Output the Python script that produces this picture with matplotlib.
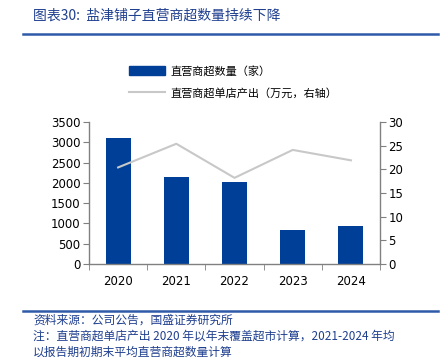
import matplotlib
matplotlib.use('agg')
import matplotlib.pyplot as plt
from matplotlib.lines import Line2D
from matplotlib.patches import Patch

plt.rcParams['font.family'] = ['Noto Sans CJK SC', 'DejaVu Sans']

years = ['2020', '2021', '2022', '2023', '2024']
stores = [3110, 2140, 2010, 830, 930]          # 直营商超数量（家）
output = [20.4, 25.4, 18.2, 24.1, 21.9]         # 单店产出（万元，右轴）

BLUE = '#003F98'
GRAY = '#C8C8C8'
AXIS = '#808080'
TXT_BLUE = '#1F3F8F'

fig = plt.figure(figsize=(4.42, 3.57), dpi=100)
ax = fig.add_axes([0.2014, 0.2605, 0.6584, 0.3978])
ax2 = ax.twinx()

x = list(range(len(years)))
ax.bar(x, stores, width=0.43, color=BLUE, zorder=2)
ax2.plot(x, output, color=GRAY, lw=1.5, zorder=3)

ax.set_xlim(-0.5, 4.5)
ax.set_ylim(0, 3500)
ax.set_yticks(range(0, 3501, 500))
ax2.set_ylim(0, 30)
ax2.set_yticks(range(0, 31, 5))
ax.set_xticks(x)
ax.set_xticklabels(years)
ax.set_xticks([i - 0.5 for i in range(6)], minor=True)
ax.tick_params(axis='x', which='major', length=0, pad=8)
ax.tick_params(axis='x', which='minor', length=4, color=AXIS, direction='out')

for a in (ax, ax2):
    a.spines['top'].set_visible(False)
    for s in ('left', 'right', 'bottom'):
        a.spines[s].set_color(AXIS)
        a.spines[s].set_linewidth(1.0)
    a.tick_params(axis='y', length=4, color=AXIS, labelsize=8.5, pad=2,
                  labelcolor='black')
    for lab in a.get_xticklabels() + a.get_yticklabels():
        lab.set_family('DejaVu Sans')
ax.tick_params(axis='x', labelsize=8.5)
ax.spines['right'].set_visible(False)
ax2.spines['left'].set_visible(False)
ax2.spines['bottom'].set_visible(False)

handles = [Patch(color=BLUE), Line2D([], [], color=GRAY, lw=1.5)]
labels = ['直营商超数量（家）', '直营商超单店产出（万元，右轴）']
fig.legend(handles, labels, loc='upper left', bbox_to_anchor=(0.27, 0.845),
           frameon=False, fontsize=8, handlelength=3.2, handleheight=0.9,
           labelspacing=1.0, handletextpad=0.5)

# title and rules
fig.text(0.075, 0.955, '图表30:  盐津铺子直营商超数量持续下降', color=TXT_BLUE,
         fontsize=10, va='center', ha='left')
fig.add_artist(Line2D([0.052, 0.99], [0.905, 0.905], color='#2E5AA8', lw=1.8))
fig.add_artist(Line2D([0.052, 0.99], [0.129, 0.129], color='#2E5AA8', lw=1.8))

notes = ['资料来源：公司公告，国盛证券研究所',
         '注：直营商超单店产出 2020 年以年末覆盖超市计算，2021-2024 年均',
         '以报告期初期末平均直营商超数量计算']
for i, t in enumerate(notes):
    fig.text(0.075, 0.104 - i * 0.045, t, color=TXT_BLUE, fontsize=8.5,
             va='center', ha='left')

fig.savefig('out.png', dpi=100)
